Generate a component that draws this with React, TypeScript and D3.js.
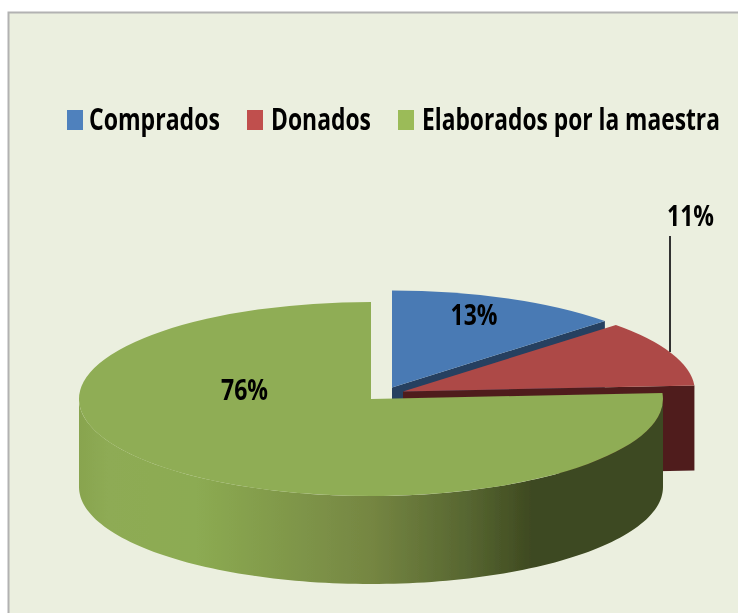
import React from "react";
import * as d3 from "d3";

const categories = ["Comprados", "Donados", "Elaborados por la maestra"];
const shareValues = [13, 11, 76];
const legendColors = ["#4F81BD", "#C0504D", "#9BBB59"];
const faceColors = ["#4A7AB4", "#AD4846", "#8FAD54"];
const wallColors = ["#254061", "#4F1F1F", "url(#greenWall)"];
const centers = [
  { x: 392, y: 387.5 },
  { x: 403, y: 391.5 },
  { x: 371, y: 399 },
];
const depths = [88, 85, 88];
const legendBoxes = [
  { sx: 67, tx: 89, w: 131 },
  { sx: 247, tx: 271, w: 100 },
  { sx: 398, tx: 422, w: 298 },
];
const labelPos = [
  { x: 450.5, y: 325 },
  { x: 667, y: 226 },
  { x: 221, y: 400 },
];
const greenStops: [number, string][] = [
  [0, "#88A44F"],
  [0.05, "#8EAB54"],
  [0.2, "#8CAB52"],
  [0.5, "#758642"],
  [0.67, "#566530"],
  [0.78, "#3D4820"],
  [1, "#3D4A20"],
];

const RX = 292;
const RY = 97;
const LABEL_WIDTH = 47;
const FONT_FAMILY = "'Open Sans', 'Noto Sans', sans-serif";

const slices = d3.pie<number>().sort(null)(shareValues);
const unitArc = d3.arc<any>().innerRadius(0).outerRadius(1);
const px = (c: { x: number }, a: number) => c.x + Math.sin(a) * RX;
const py = (c: { y: number }, a: number) => c.y - Math.cos(a) * RY;

const measureCtx = document.createElement("canvas").getContext("2d")!;
function fitScale(text: string, size: number, target: number) {
  measureCtx.font = `700 ${size}px ${FONT_FAMILY}`;
  return target / measureCtx.measureText(text).width;
}

function radialWall(i: number) {
  const c = centers[i];
  const a = slices[i].endAngle;
  const ex = px(c, a);
  const ey = py(c, a);
  return d3.line()([
    [c.x, c.y],
    [ex, ey],
    [ex, ey + depths[i]],
    [c.x, c.y + depths[i]],
  ]) + "Z";
}

function outerWall(i: number) {
  const c = centers[i];
  const from = Math.max(slices[i].startAngle, Math.PI / 2);
  const to = Math.min(slices[i].endAngle, (3 * Math.PI) / 2);
  const angles = d3.range(0, 121).map((k) => from + ((to - from) * k) / 120);
  return (
    d3
      .area<number>()
      .x((a) => px(c, a))
      .y0((a) => py(c, a))
      .y1((a) => py(c, a) + depths[i])(angles) ?? ""
  );
}

export default function App() {
  return (
    <svg
      width={738}
      height={613}
      viewBox="0 0 738 613"
      style={{ position: "absolute", left: 0, top: 0, background: "#fff" }}
    >
      <defs>
        <linearGradient id="greenWall" gradientUnits="userSpaceOnUse" x1={79} x2={663} y1={0} y2={0}>
          {greenStops.map(([o, col]) => (
            <stop key={o} offset={o} stopColor={col} />
          ))}
        </linearGradient>
        <filter id="soft" x="-2%" y="-2%" width="104%" height="104%">
          <feGaussianBlur stdDeviation={0.6} />
        </filter>
      </defs>
      <g filter="url(#soft)">
        <rect x={8.5} y={12.5} width={740} height={620} fill="#EBEFDF" stroke="#B2B2B2" strokeWidth={2} />

        {categories.map((name, i) => (
          <g key={name}>
            <rect x={legendBoxes[i].sx} y={110} width={16} height={20} fill={legendColors[i]} />
            <text
              transform={`translate(${legendBoxes[i].tx},130) scale(${fitScale(name, 30, legendBoxes[i].w)},1)`}
              fontFamily={FONT_FAMILY}
              fontWeight={700}
              fontSize={30}
              fill="#000"
            >
              {name}
            </text>
          </g>
        ))}

        <line x1={670} x2={670} y1={236} y2={352} stroke="#333" strokeWidth={2} />

        {/* Comprados */}
        <path d={radialWall(0)} fill={wallColors[0]} />
        <path
          d={unitArc(slices[0]) ?? ""}
          transform={`translate(${centers[0].x},${centers[0].y}) scale(${RX},${RY})`}
          fill={faceColors[0]}
        />
        {/* Donados */}
        <path d={radialWall(1)} fill={wallColors[1]} />
        <path
          d={unitArc(slices[1]) ?? ""}
          transform={`translate(${centers[1].x},${centers[1].y}) scale(${RX},${RY})`}
          fill={faceColors[1]}
        />
        {/* Elaborados */}
        <path d={outerWall(2)} fill={wallColors[2]} />
        <path
          d={unitArc(slices[2]) ?? ""}
          transform={`translate(${centers[2].x},${centers[2].y}) scale(${RX},${RY})`}
          fill={faceColors[2]}
        />

        {shareValues.map((v, i) => (
          <text
            key={i}
            transform={`translate(${labelPos[i].x},${labelPos[i].y}) scale(${fitScale(`${v}%`, 29, LABEL_WIDTH)},1)`}
            fontFamily={FONT_FAMILY}
            fontWeight={700}
            fontSize={29}
            fill="#000"
          >
            {`${v}%`}
          </text>
        ))}
      </g>
    </svg>
  );
}
